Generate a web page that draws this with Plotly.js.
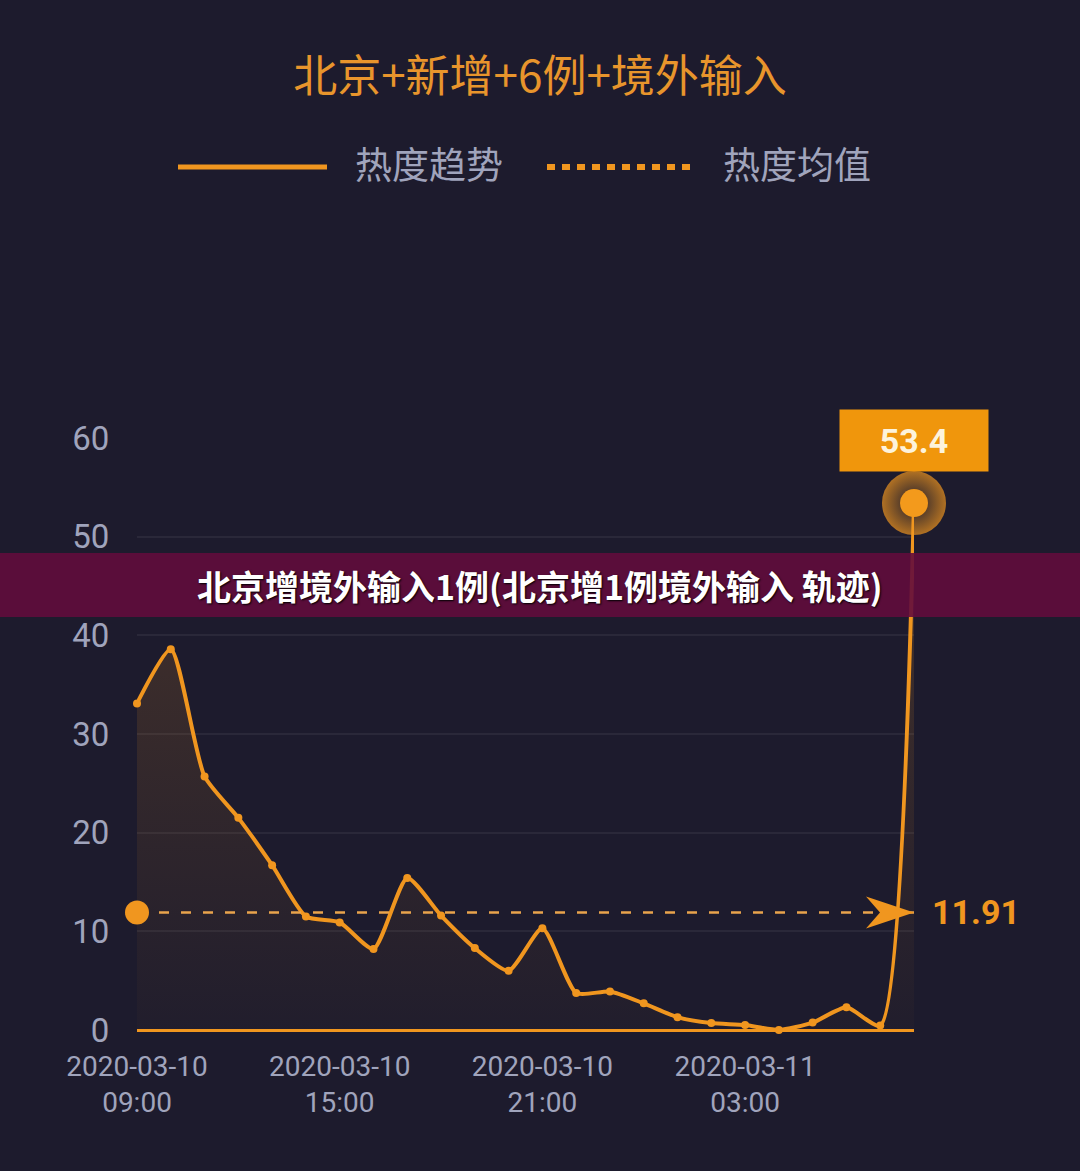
<!DOCTYPE html>
<html><head><meta charset="utf-8">
<script src="https://cdn.plot.ly/plotly-3.0.1.min.js"></script>
<style>html,body{margin:0;padding:0;background:#1d1b2d;}#chart{width:1080px;height:1171px;}</style>
</head><body><div id="chart"></div>
<script>
const chartTitle = '北京+新增+6例+境外输入';
const bannerText = '北京增境外输入1例(北京增1例境外输入 轨迹)';
const seriesNames = ['热度趋势', '热度均值'];
const times = [
  '2020-03-10 09:00','2020-03-10 10:00','2020-03-10 11:00','2020-03-10 12:00',
  '2020-03-10 13:00','2020-03-10 14:00','2020-03-10 15:00','2020-03-10 16:00',
  '2020-03-10 17:00','2020-03-10 18:00','2020-03-10 19:00','2020-03-10 20:00',
  '2020-03-10 21:00','2020-03-10 22:00','2020-03-10 23:00','2020-03-11 00:00',
  '2020-03-11 01:00','2020-03-11 02:00','2020-03-11 03:00','2020-03-11 04:00',
  '2020-03-11 05:00','2020-03-11 06:00','2020-03-11 07:00','2020-03-11 08:00'
];
const heat = [33.1, 38.6, 25.7, 21.5, 16.7, 11.5, 10.9, 8.2, 15.4, 11.6, 8.3, 6.0,
              10.3, 3.75, 3.9, 2.7, 1.3, 0.7, 0.5, 0.0, 0.75, 2.3, 0.45, 53.4];
const avgHeat = 11.91;
const tickTimes = ['2020-03-10 09:00','2020-03-10 15:00','2020-03-10 21:00','2020-03-11 03:00'];
const tickLabels = ['2020-03-10<br>09:00','2020-03-10<br>15:00','2020-03-10<br>21:00','2020-03-11<br>03:00'];

const ORANGE = '#f0961f';
const BG = '#1d1b2d';
const GRAY = '#a0a4bc';
const NUMFONT = 'Roboto, "Noto Sans", sans-serif';
const CJK = '"Noto Sans CJK SC", "Noto Sans", sans-serif';

const last = times.length - 1;
let peakIdx = 0;
heat.forEach((v, i) => { if (v > heat[peakIdx]) peakIdx = i; });

const traces = [
  {
    x: times, y: heat, type: 'scatter', mode: 'lines+markers', name: seriesNames[0],
    line: {color: ORANGE, width: 4, shape: 'spline', smoothing: 0.6},
    marker: {color: ORANGE, size: 8},
    fill: 'tozeroy', cliponaxis: false,
    fillgradient: {type: 'vertical', start: 0, stop: 40,
      colorscale: [[0, 'rgba(240,150,31,0.02)'], [1, 'rgba(240,150,31,0.15)']]},
    hoverinfo: 'x+y'
  },
  {
    x: [times[0], times[last]], y: [avgHeat, avgHeat], type: 'scatter', mode: 'lines',
    name: seriesNames[1], line: {color: '#e9a44c', width: 2.5, dash: '10px,12px'}
  },
  {
    x: [times[0]], y: [avgHeat], type: 'scatter', mode: 'markers', cliponaxis: false,
    marker: {color: ORANGE, size: 24}, hoverinfo: 'skip'
  },
  {
    x: [times[peakIdx]], y: [heat[peakIdx]], type: 'scatter', mode: 'markers', cliponaxis: false,
    marker: {color: 'rgba(240,150,31,0.7)', size: 64,
      gradient: {type: 'radial', color: 'rgba(240,150,31,0.0)'}}, hoverinfo: 'skip'
  },
  {
    x: [times[peakIdx]], y: [heat[peakIdx]], type: 'scatter', mode: 'markers', cliponaxis: false,
    marker: {color: '#f39a1c', size: 28}, hoverinfo: 'skip'
  }
];

// paper coordinate helpers for decoration (plot area: x 137..914, y 438..1030)
const px = v => (v - 137) / 777;
const py = v => (1030 - v) / 592;

const layout = {
  width: 1080, height: 1171,
  paper_bgcolor: BG, plot_bgcolor: BG,
  margin: {l: 137, r: 166, t: 438, b: 141},
  showlegend: false,
  title: {text: chartTitle, x: 0.5, xref: 'container', xanchor: 'center',
    y: 1 - 77 / 1171, yref: 'container', yanchor: 'middle',
    font: {family: CJK, size: 44, color: '#e8952c'}},
  xaxis: {type: 'category', range: [0, last], showgrid: false, zeroline: false, showline: false,
    tickvals: tickTimes, ticktext: tickLabels, ticks: 'outside', ticklen: 11,
    tickcolor: 'rgba(0,0,0,0)', tickfont: {family: NUMFONT, size: 28, color: GRAY}},
  yaxis: {range: [0, 60], dtick: 10, tick0: 0, showgrid: true, gridcolor: '#2a2839', gridwidth: 2,
    zeroline: true, zerolinecolor: ORANGE, zerolinewidth: 3, showline: false,
    ticks: 'outside', ticklen: 20, tickcolor: 'rgba(0,0,0,0)',
    tickfont: {family: NUMFONT, size: 33, color: GRAY}},
  shapes: [
    {type: 'line', xref: 'paper', yref: 'paper', x0: px(178), x1: px(327), y0: py(167), y1: py(167),
      line: {color: ORANGE, width: 5}},
    {type: 'line', xref: 'paper', yref: 'paper', x0: px(547), x1: px(697), y0: py(167), y1: py(167),
      line: {color: ORANGE, width: 6, dash: '8px,7px'}},
    {type: 'path', xref: 'x', yref: 'y', xsizemode: 'pixel', ysizemode: 'pixel',
      xanchor: last, yanchor: avgHeat,
      path: 'M0,0 L-48,16 L-34,0 L-48,-16 Z', fillcolor: ORANGE, line: {width: 0}},
    {type: 'rect', xref: 'paper', yref: 'paper', x0: px(-20), x1: px(1100), y0: py(617), y1: py(553),
      fillcolor: 'rgba(98,12,60,0.9)', line: {width: 0}, layer: 'above'}
  ],
  annotations: [
    {xref: 'paper', yref: 'paper', x: px(353), y: py(163), xanchor: 'left', yanchor: 'middle',
      text: seriesNames[0], showarrow: false, font: {family: CJK, size: 37, color: GRAY}},
    {xref: 'paper', yref: 'paper', x: px(721), y: py(163), xanchor: 'left', yanchor: 'middle',
      text: seriesNames[1], showarrow: false, font: {family: CJK, size: 37, color: GRAY}},
    {x: times[last], y: avgHeat, xanchor: 'left', yanchor: 'middle', xshift: 16,
      text: '<b>' + avgHeat.toFixed(2) + '</b>', showarrow: false,
      font: {family: NUMFONT, size: 34, color: ORANGE}},
    {x: times[peakIdx], y: heat[peakIdx], showarrow: true, arrowcolor: 'rgba(0,0,0,0)',
      ax: 0, ay: -63, width: 148, height: 61, borderpad: 0, bgcolor: '#f0960c',
      text: '<b>' + heat[peakIdx].toFixed(1) + '</b>',
      font: {family: NUMFONT, size: 34, color: '#fdf3dc'}},
    {xref: 'paper', yref: 'paper', x: px(540), y: py(585), xanchor: 'center', yanchor: 'middle',
      text: '<b>' + bannerText + '</b>', showarrow: false,
      font: {family: CJK, size: 34, color: '#ffffff', shadow: '1px 1px 2px #000'}}
  ]
};

Plotly.newPlot('chart', traces, layout, {displayModeBar: false, staticPlot: true});
</script>
</body></html>
